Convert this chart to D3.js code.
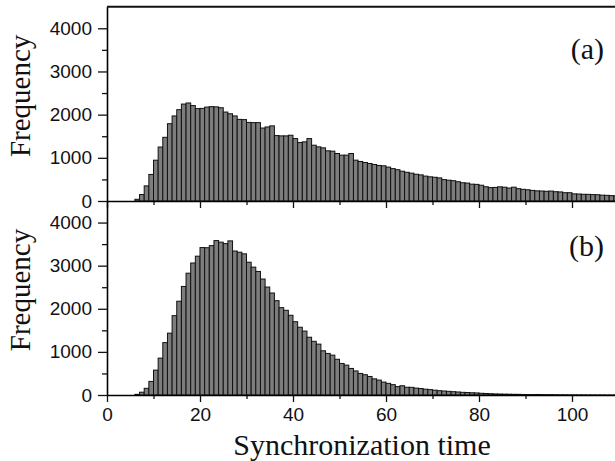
<!DOCTYPE html>
<html>
<head>
<meta charset="utf-8">
<script src="https://cdn.jsdelivr.net/npm/d3@7"></script>
<style>
  body { margin: 0; background: #fff; }
  svg { display: block; }
</style>
</head>
<body>
<div id="chart"></div>
<script>
var width = 615;
var height = 461;

// histogram bins of width 1, first bin starts at 6
var firstBin = 6;

// panel (a) frequencies, bins 6..109
var freqA = [40, 150, 350, 615, 945, 1250, 1475, 1790, 1970, 2115,
             2245, 2270, 2210, 2140, 2145, 2175, 2185, 2180, 2160, 2060,
             2020, 1970, 1890, 1885, 1820, 1815, 1815, 1690, 1715, 1740,
             1515, 1508, 1508, 1523, 1446, 1354, 1370, 1446, 1292, 1254,
             1231, 1162, 1154, 1100, 1062, 1062, 1100, 946, 915, 892,
             869, 846, 823, 815, 785, 750, 725, 690, 665, 645,
             620, 605, 577, 560, 550, 535, 495, 482, 470, 446,
             423, 415, 390, 385, 365, 330, 310, 315, 328, 320,
             300, 320, 285, 270, 260, 245, 235, 231, 225, 230,
             215, 210, 192, 192, 165, 162, 155, 154, 148, 145,
             135, 131, 125, 118];

// panel (b) frequencies, bins 6..109
var freqB = [15, 65, 155, 315, 577, 855, 1215, 1435, 1840, 2175,
             2518, 2825, 3062, 3220, 3420, 3416, 3465, 3582, 3545, 3512,
             3575, 3340, 3312, 3274, 3080, 2966, 2866, 2690, 2504, 2366,
             2188, 2026, 1965, 1849, 1700, 1572, 1483, 1340, 1245, 1180,
             1025, 964, 925, 829, 732, 693, 616, 558, 500, 470,
             430, 375, 346, 300, 270, 240, 195, 215, 180, 178,
             160, 150, 135, 125, 112, 100, 92, 85, 77, 70,
             62, 58, 52, 48, 40, 35, 30, 25, 22, 20,
             18, 16, 15, 12, 10, 10, 12, 10, 8, 8,
             6, 5, 5, 4, 4, 3, 3, 2, 2, 2,
             2, 1, 1, 1];

var xMajor = [0, 20, 40, 60, 80, 100];
var xMinor = [10, 30, 50, 70, 90, 110];
var yMajor = [0, 1000, 2000, 3000, 4000];
var yMinor = [500, 1500, 2500, 3500];

var sansFont = "'Liberation Sans', Arial, Helvetica, sans-serif";
var serifFont = "'Liberation Serif', 'Times New Roman', Times, serif";

var svg = d3.select("#chart")
            .append("svg")
            .attr("width", width)
            .attr("height", height);

var x = d3.scaleLinear().domain([0, 110]).range([107, 618.5]);

var panels = [
  {values: freqA, label: "(a)", top: 6.7, bottom: 201, labelY: 59, showLabels: false},
  {values: freqB, label: "(b)", top: 201, bottom: 395, labelY: 256, showLabels: true}
];

panels.forEach(function(p) {
  var y = d3.scaleLinear().domain([0, 4500]).range([p.bottom, p.top]);
  var g = svg.append("g");

  // bars
  g.selectAll("rect")
    .data(p.values)
    .enter()
    .append("rect")
    .attr("x", function(d, i) { return x(firstBin + i); })
    .attr("width", function(d, i) { return x(firstBin + i + 1) - x(firstBin + i); })
    .attr("y", function(d) { return y(d); })
    .attr("height", function(d) { return y(0) - y(d); })
    .attr("fill", "#7d7d7d")
    .attr("stroke", "#111")
    .attr("stroke-width", 1);

  // minor x ticks
  g.append("g")
    .attr("transform", "translate(0," + p.bottom + ")")
    .call(d3.axisBottom(x).tickValues(xMinor).tickSize(4).tickSizeOuter(0).tickFormat(""))
    .call(function(a) { a.select(".domain").remove(); });

  // major x ticks + axis line
  var xa = g.append("g")
    .attr("transform", "translate(0," + p.bottom + ")")
    .call(d3.axisBottom(x).tickValues(xMajor).tickSize(7).tickSizeOuter(0).tickPadding(6)
      .tickFormat(p.showLabels ? d3.format("d") : ""));
  xa.select(".domain").attr("stroke-width", 1.6);

  // minor y ticks
  g.append("g")
    .attr("transform", "translate(107,0)")
    .call(d3.axisLeft(y).tickValues(yMinor).tickSize(5).tickFormat(""))
    .call(function(a) { a.select(".domain").remove(); });

  // major y ticks + axis line
  var ya = g.append("g")
    .attr("transform", "translate(107,0)")
    .call(d3.axisLeft(y).tickValues(yMajor).tickSize(9).tickSizeOuter(0).tickPadding(6)
      .tickFormat(d3.format("d")));
  ya.select(".domain").attr("stroke-width", 1.6);

  g.selectAll(".tick line").attr("stroke", "#111").attr("stroke-width", 1.3);
  g.selectAll("g").attr("font-family", null).attr("font-size", null);
  g.selectAll(".tick text")
    .style("font-family", sansFont)
    .style("font-size", "19px")
    .attr("fill", "#111");

  // y label
  g.append("text")
    .attr("transform", "translate(30," + ((p.top + p.bottom) / 2 - 8) + ") rotate(-90)")
    .attr("text-anchor", "middle")
    .style("font-family", serifFont)
    .style("font-size", "29px")
    .attr("fill", "#111")
    .text("Frequency");

  // panel tag
  g.append("text")
    .attr("x", 604)
    .attr("y", p.labelY)
    .attr("text-anchor", "end")
    .style("font-family", serifFont)
    .style("font-size", "30px")
    .attr("fill", "#111")
    .text(p.label);
});

// frame line at the top of panel (a)
svg.append("line")
  .attr("x1", 107).attr("x2", 618.5)
  .attr("y1", 6.7).attr("y2", 6.7)
  .attr("stroke", "#111")
  .attr("stroke-width", 2);

// x label
svg.append("text")
  .attr("x", 362)
  .attr("y", 455)
  .attr("text-anchor", "middle")
  .style("font-family", serifFont)
  .style("font-size", "30px")
  .attr("fill", "#111")
  .text("Synchronization time");
</script>
</body>
</html>
